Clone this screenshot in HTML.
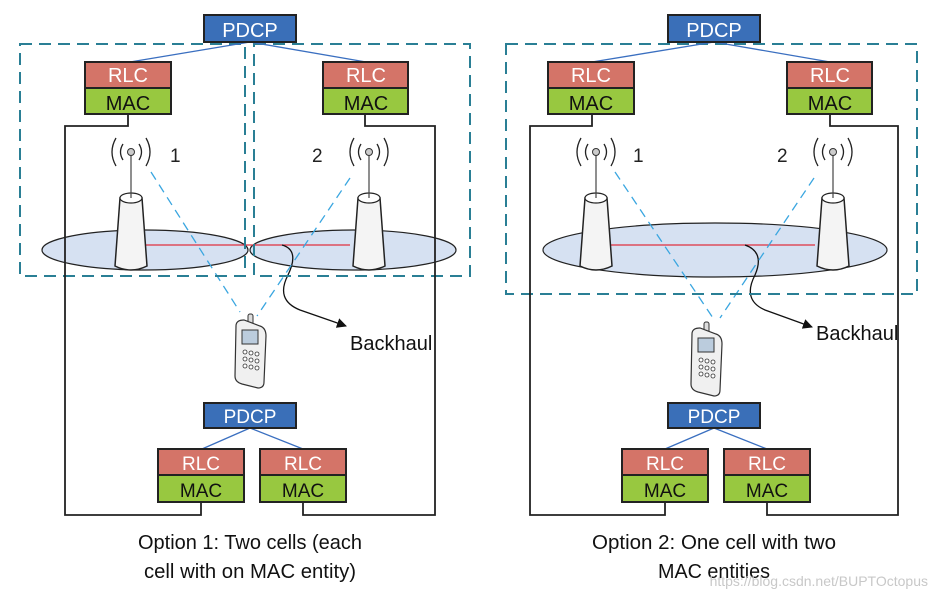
<!DOCTYPE html>
<html><head><meta charset="utf-8"><style>
body{margin:0;background:#fff}
svg{display:block}
text{font-family:"Liberation Sans",sans-serif}
</style></head><body>
<svg width="936" height="600" viewBox="0 0 936 600" xmlns="http://www.w3.org/2000/svg">
<defs>
<g id="tower">
<path d="M-11,-50 L-16,18 Q0,26 16,18 L11,-50 Z" fill="#f4f4f4" stroke="#222" stroke-width="1.5"/>
<ellipse cx="0" cy="-50" rx="11" ry="5" fill="#fff" stroke="#222" stroke-width="1.2"/>
<line x1="0" y1="-50" x2="0" y2="-95" stroke="#444" stroke-width="1.2"/>
<circle cx="0" cy="-96" r="3.5" fill="#ccc" stroke="#333"/>
<path d="M-8,-104 Q-13,-96 -8,-88 M8,-104 Q13,-96 8,-88 M-15,-110 Q-23,-96 -15,-82 M15,-110 Q23,-96 15,-82" fill="none" stroke="#222" stroke-width="1.3"/>
</g>
<g id="phone">
<rect x="-2" y="-8" width="5" height="14" rx="2" fill="#ddd" stroke="#333"/>
<path d="M-14,4 Q-14,-2 -6,-2 L10,4 Q16,6 16,14 L14,60 Q14,66 8,66 L-8,62 Q-15,60 -15,54 Z" fill="#f0f0f0" stroke="#333" stroke-width="1.2"/>
<rect x="-8" y="8" width="16" height="14" fill="#bcd" stroke="#333"/>
<g fill="#fff" stroke="#333" stroke-width="0.8">
<circle cx="-5" cy="30" r="2"/><circle cx="1" cy="31" r="2"/><circle cx="7" cy="32" r="2"/>
<circle cx="-5" cy="37" r="2"/><circle cx="1" cy="38" r="2"/><circle cx="7" cy="39" r="2"/>
<circle cx="-5" cy="44" r="2"/><circle cx="1" cy="45" r="2"/><circle cx="7" cy="46" r="2"/>
</g>
</g>
<marker id="arr" markerWidth="10" markerHeight="10" refX="9" refY="5" orient="auto" markerUnits="userSpaceOnUse"><path d="M0,0 L10,5 L0,10 Z" fill="#111"/></marker>
</defs>

<!-- ===== LEFT PANEL ===== -->
<ellipse cx="145" cy="250" rx="103" ry="20" fill="#d6e1f2" stroke="#222" stroke-width="1.2"/>
<ellipse cx="353" cy="250" rx="103" ry="20" fill="#d6e1f2" stroke="#222" stroke-width="1.2"/>
<line x1="146" y1="245" x2="350" y2="245" stroke="#e03040" stroke-width="1.3"/>
<path d="M282,245 Q300,250 288,275 Q275,300 300,310 L346,326" fill="none" stroke="#111" stroke-width="1.3" marker-end="url(#arr)"/>
<use href="#tower" x="131" y="248"/>
<use href="#tower" x="369" y="248"/>
<line x1="151" y1="172" x2="240" y2="312" stroke="#3aa6e0" stroke-width="1.3" stroke-dasharray="9,6"/>
<line x1="350" y1="178" x2="257" y2="316" stroke="#3aa6e0" stroke-width="1.3" stroke-dasharray="9,6"/>
<rect x="20" y="44" width="225" height="232" fill="none" stroke="#2a7f95" stroke-width="2" stroke-dasharray="12,7"/>
<rect x="254" y="44" width="216" height="232" fill="none" stroke="#2a7f95" stroke-width="2" stroke-dasharray="12,7"/>
<path d="M128,114 V126 H65 V515 H201 V502 M303,502 V515 H435 V126 H365 V114" fill="none" stroke="#222" stroke-width="1.8"/>
<text x="170" y="162" font-size="19" fill="#222">1</text>
<text x="312" y="162" font-size="19" fill="#222">2</text>
<text x="350" y="350" font-size="20" fill="#111">Backhaul</text>
<use href="#phone" x="250" y="322"/>

<line x1="250" y1="42" x2="130" y2="62" stroke="#3a6fc0" stroke-width="1.3"/>
<line x1="250" y1="42" x2="366" y2="62" stroke="#3a6fc0" stroke-width="1.3"/>
<rect x="204" y="15" width="92" height="27" fill="#3a6fb8" stroke="#222" stroke-width="2"/>
<text x="250" y="37" font-size="20" fill="#fff" text-anchor="middle">PDCP</text>
<rect x="85" y="62" width="86" height="26" fill="#d47468" stroke="#222" stroke-width="2"/>
<rect x="85" y="88" width="86" height="26" fill="#98c840" stroke="#222" stroke-width="2"/>
<text x="128" y="82" font-size="20" fill="#fff" text-anchor="middle">RLC</text>
<text x="128" y="110" font-size="20" fill="#111" text-anchor="middle">MAC</text>
<rect x="323" y="62" width="85" height="26" fill="#d47468" stroke="#222" stroke-width="2"/>
<rect x="323" y="88" width="85" height="26" fill="#98c840" stroke="#222" stroke-width="2"/>
<text x="366" y="82" font-size="20" fill="#fff" text-anchor="middle">RLC</text>
<text x="366" y="110" font-size="20" fill="#111" text-anchor="middle">MAC</text>

<line x1="250" y1="428" x2="202" y2="449" stroke="#3a6fc0" stroke-width="1.3"/>
<line x1="250" y1="428" x2="303" y2="449" stroke="#3a6fc0" stroke-width="1.3"/>
<rect x="204" y="403" width="92" height="25" fill="#3a6fb8" stroke="#222" stroke-width="2"/>
<text x="250" y="423" font-size="19" fill="#fff" text-anchor="middle">PDCP</text>
<rect x="158" y="449" width="86" height="26" fill="#d47468" stroke="#222" stroke-width="2"/>
<rect x="158" y="475" width="86" height="27" fill="#98c840" stroke="#222" stroke-width="2"/>
<text x="201" y="470" font-size="19" fill="#fff" text-anchor="middle">RLC</text>
<text x="201" y="497" font-size="19" fill="#111" text-anchor="middle">MAC</text>
<rect x="260" y="449" width="86" height="26" fill="#d47468" stroke="#222" stroke-width="2"/>
<rect x="260" y="475" width="86" height="27" fill="#98c840" stroke="#222" stroke-width="2"/>
<text x="303" y="470" font-size="19" fill="#fff" text-anchor="middle">RLC</text>
<text x="303" y="497" font-size="19" fill="#111" text-anchor="middle">MAC</text>

<text x="250" y="549" font-size="20" fill="#111" text-anchor="middle" textLength="224" lengthAdjust="spacingAndGlyphs">Option 1: Two cells (each</text>
<text x="250" y="578" font-size="20" fill="#111" text-anchor="middle" textLength="212" lengthAdjust="spacingAndGlyphs">cell with on MAC entity)</text>

<!-- ===== RIGHT PANEL ===== -->
<ellipse cx="715" cy="250" rx="172" ry="27" fill="#d6e1f2" stroke="#222" stroke-width="1.2"/>
<line x1="610" y1="245" x2="815" y2="245" stroke="#e03040" stroke-width="1.3"/>
<path d="M745,245 Q765,252 755,275 Q742,300 765,310 L812,327" fill="none" stroke="#111" stroke-width="1.3" marker-end="url(#arr)"/>
<use href="#tower" x="596" y="248"/>
<use href="#tower" x="833" y="248"/>
<line x1="615" y1="172" x2="713" y2="318" stroke="#3aa6e0" stroke-width="1.3" stroke-dasharray="9,6"/>
<line x1="814" y1="178" x2="720" y2="318" stroke="#3aa6e0" stroke-width="1.3" stroke-dasharray="9,6"/>
<rect x="506" y="44" width="411" height="250" fill="none" stroke="#2a7f95" stroke-width="2" stroke-dasharray="12,7"/>
<path d="M592,114 V126 H530 V515 H665 V502 M767,502 V515 H898 V126 H830 V114" fill="none" stroke="#222" stroke-width="1.8"/>
<text x="633" y="162" font-size="19" fill="#222">1</text>
<text x="777" y="162" font-size="19" fill="#222">2</text>
<text x="816" y="340" font-size="20" fill="#111">Backhaul</text>
<use href="#phone" x="706" y="330"/>

<line x1="714" y1="42" x2="592" y2="62" stroke="#3a6fc0" stroke-width="1.3"/>
<line x1="714" y1="42" x2="830" y2="62" stroke="#3a6fc0" stroke-width="1.3"/>
<rect x="668" y="15" width="92" height="27" fill="#3a6fb8" stroke="#222" stroke-width="2"/>
<text x="714" y="37" font-size="20" fill="#fff" text-anchor="middle">PDCP</text>
<rect x="548" y="62" width="86" height="26" fill="#d47468" stroke="#222" stroke-width="2"/>
<rect x="548" y="88" width="86" height="26" fill="#98c840" stroke="#222" stroke-width="2"/>
<text x="591" y="82" font-size="20" fill="#fff" text-anchor="middle">RLC</text>
<text x="591" y="110" font-size="20" fill="#111" text-anchor="middle">MAC</text>
<rect x="787" y="62" width="85" height="26" fill="#d47468" stroke="#222" stroke-width="2"/>
<rect x="787" y="88" width="85" height="26" fill="#98c840" stroke="#222" stroke-width="2"/>
<text x="830" y="82" font-size="20" fill="#fff" text-anchor="middle">RLC</text>
<text x="830" y="110" font-size="20" fill="#111" text-anchor="middle">MAC</text>

<line x1="714" y1="428" x2="665" y2="449" stroke="#3a6fc0" stroke-width="1.3"/>
<line x1="714" y1="428" x2="767" y2="449" stroke="#3a6fc0" stroke-width="1.3"/>
<rect x="668" y="403" width="92" height="25" fill="#3a6fb8" stroke="#222" stroke-width="2"/>
<text x="714" y="423" font-size="19" fill="#fff" text-anchor="middle">PDCP</text>
<rect x="622" y="449" width="86" height="26" fill="#d47468" stroke="#222" stroke-width="2"/>
<rect x="622" y="475" width="86" height="27" fill="#98c840" stroke="#222" stroke-width="2"/>
<text x="665" y="470" font-size="19" fill="#fff" text-anchor="middle">RLC</text>
<text x="665" y="497" font-size="19" fill="#111" text-anchor="middle">MAC</text>
<rect x="724" y="449" width="86" height="26" fill="#d47468" stroke="#222" stroke-width="2"/>
<rect x="724" y="475" width="86" height="27" fill="#98c840" stroke="#222" stroke-width="2"/>
<text x="767" y="470" font-size="19" fill="#fff" text-anchor="middle">RLC</text>
<text x="767" y="497" font-size="19" fill="#111" text-anchor="middle">MAC</text>

<text x="714" y="549" font-size="20" fill="#111" text-anchor="middle" textLength="244" lengthAdjust="spacingAndGlyphs">Option 2: One cell with two</text>
<text x="714" y="578" font-size="20" fill="#111" text-anchor="middle" textLength="112" lengthAdjust="spacingAndGlyphs">MAC entities</text>
<text x="928" y="586" font-size="14" fill="#c8c8c8" text-anchor="end">https://blog.csdn.net/BUPTOctopus</text>
</svg>
</body></html>
